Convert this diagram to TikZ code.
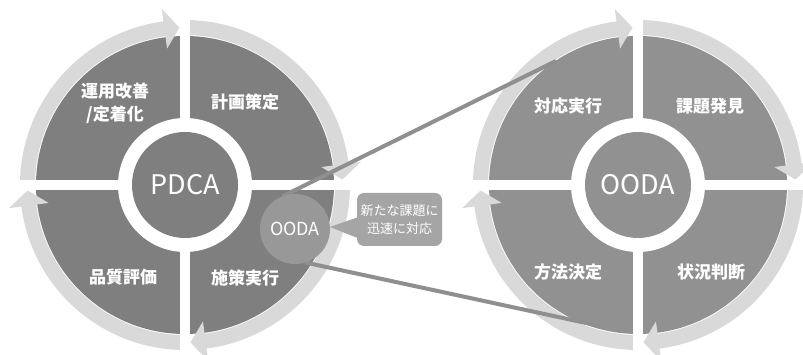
\documentclass[tikz,border=0pt]{standalone}
\usepackage{fontspec}
\setmainfont{Noto Sans CJK JP}
\usetikzlibrary{calc}
\definecolor{pdcagray}{RGB}{127,127,127}
\definecolor{oodagray}{RGB}{145,145,145}
\definecolor{bandgray}{RGB}{217,217,217}
\definecolor{smallgray}{RGB}{152,152,152}
\definecolor{linegray}{RGB}{143,143,143}
\definecolor{callgray}{RGB}{165,165,165}
\newcommand{\qarrow}[2]{%
  \pgfmathsetmacro{\qhb}{#2+5.5}%
  \fill[bandgray] (#1:165pt) arc[start angle=#1, end angle=\qhb, radius=165pt]
    -- (\qhb:177.5pt) -- (#2:157.5pt) -- (\qhb:137.5pt) -- (\qhb:150pt)
    arc[start angle=\qhb, end angle=#1, radius=150pt] -- cycle;}
\newcommand{\cyclewheel}[2]{%
  \begin{scope}[shift={(#1,170)}]
    \fill[#2] (0,0) circle[radius=149pt];
    \qarrow{180}{92}
    \qarrow{90}{2}
    \qarrow{0}{-88}
    \qarrow{-90}{-178}
    \fill[white] (-5,-172) rectangle (5,172);
    \fill[white] (-172,-5) rectangle (172,5);
    \fill[white] (0,0) circle[radius=67pt];
  \end{scope}}
\begin{document}
\begin{tikzpicture}[x=1pt,y=1pt,
  lbl/.style={text=white,font=\fontsize{17}{23.5}\selectfont\bfseries,align=center,inner sep=0pt},
  ctr/.style={circle,minimum size=106pt,inner sep=0pt,text=white,font=\fontsize{27}{30}\selectfont},
  zoomline/.style={draw=linegray,line width=4pt},
  callbox/.style={fill=callgray,rounded corners=7pt,minimum width=85pt,minimum height=53pt,
    inner sep=0pt,text=white,align=center,font=\fontsize{13}{18}\selectfont}]
\useasboundingbox (0,0) rectangle (803,355);
\fill[white] (0,0) rectangle (803,355);
% PDCA wheel
\cyclewheel{185}{pdcagray}
\node[ctr,fill=pdcagray] (pdca) at (185,170) {PDCA};
\node[lbl] (p1) at (115,251.5) {運用改善\\/定着化};
\node[lbl] (p2) at (245,252.5) {計画策定};
\node[lbl] (p3) at (123,77.5) {品質評価};
\node[lbl] (p4) at (245,77.5) {施策実行};
% OODA wheel
\cyclewheel{638}{oodagray}
\node[ctr,fill=oodagray] (ooda) at (638,170) {OODA};
\node[lbl] (o1) at (568,248.5) {対応実行};
\node[lbl] (o2) at (710,248.5) {課題発見};
\node[lbl] (o3) at (568,82.5) {方法決定};
\node[lbl] (o4) at (711,82.5) {状況判断};
% zoom lines and small circle
\coordinate (sc) at (295,126);
\coordinate (uend) at (556,294);
\coordinate (lend) at (600,29);
\draw[zoomline] ($(sc)+(111:35)$) -- (uend);
\draw[zoomline] ($(sc)+(-73:35)$) -- (lend);
\node[circle,fill=smallgray,minimum size=70pt,inner sep=0pt,text=white,
  font=\fontsize{18}{20}\selectfont] (small) at (sc) {OODA};
% callout
\node[callbox] (cb) at (399.5,135.5) {新たな課題に\\迅速に対応};
\coordinate (ctip) at (330,128);
\fill[callgray] ($(cb.west)+(2,2.6)$) -- (ctip) -- ($(cb.west)+(2,-19)$) -- cycle;
\end{tikzpicture}
\end{document}
